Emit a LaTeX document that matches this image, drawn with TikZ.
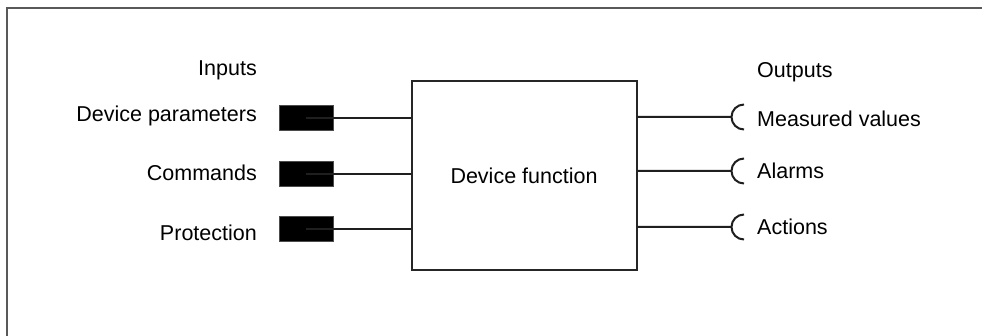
\documentclass[tikz,border=0pt]{standalone}
\usepackage{fontspec}
\setmainfont{Liberation Sans}
\usetikzlibrary{positioning}

\begin{document}
\begin{tikzpicture}[
  x=1pt, y=-1pt,
  every node/.style={font=\fontsize{21.5}{24}\selectfont},
  lbl/.style={inner sep=0pt},
  func/.style={draw=black!85, line width=2pt, minimum width=225pt,
               minimum height=189pt, inner sep=0pt},
  plug/.style={fill=black, draw=black!70, line width=1pt,
               minimum width=54pt, minimum height=25pt, inner sep=0pt},
  wire/.style={draw=black!88, line width=2pt},
  frame/.style={draw=black!65, line width=2pt},
]
  \useasboundingbox (0,0) rectangle (982,336);
  \draw[frame] (7,340) -- (7,8) -- (990,8);

  \node[func] (func) at (524,175.5) {Device function};

  % inputs
  \node[lbl, anchor=base east] (lin) at (257,76) {Inputs};
  \node[lbl, anchor=base east] (lpar) at (257,122) {Device parameters};
  \node[lbl, anchor=base east] (lcmd) at (257,181) {Commands};
  \node[lbl, anchor=base east] (lprot) at (257,241) {Protection};

  \node[plug] (in1) at (306,118.5) {};
  \node[plug] (in2) at (306,174.5) {};
  \node[plug] (in3) at (306,229.5) {};

  \draw[wire] (in1.center) -- (func.west |- in1.center);
  \draw[wire] (in2.center) -- (func.west |- in2.center);
  \draw[wire] (in3.center) -- (func.west |- in3.center);

  % outputs
  \node[lbl, anchor=base west] (lout) at (757,78) {Outputs};
  \node[lbl, anchor=base west] (lmeas) at (757,127) {Measured values};
  \node[lbl, anchor=base west] (lalarm) at (757,179) {Alarms};
  \node[lbl, anchor=base west] (lact) at (757,235) {Actions};

  \coordinate (o1) at (732,117);
  \coordinate (o2) at (732,171);
  \coordinate (o3) at (732,227);

  \draw[wire] (func.east |- o1) -- (o1) ++(12pt,12.5pt)
    arc[start angle=90, end angle=270, radius=12.5pt];
  \draw[wire] (func.east |- o2) -- (o2) ++(12pt,12.5pt)
    arc[start angle=90, end angle=270, radius=12.5pt];
  \draw[wire] (func.east |- o3) -- (o3) ++(12pt,12.5pt)
    arc[start angle=90, end angle=270, radius=12.5pt];
\end{tikzpicture}
\end{document}
